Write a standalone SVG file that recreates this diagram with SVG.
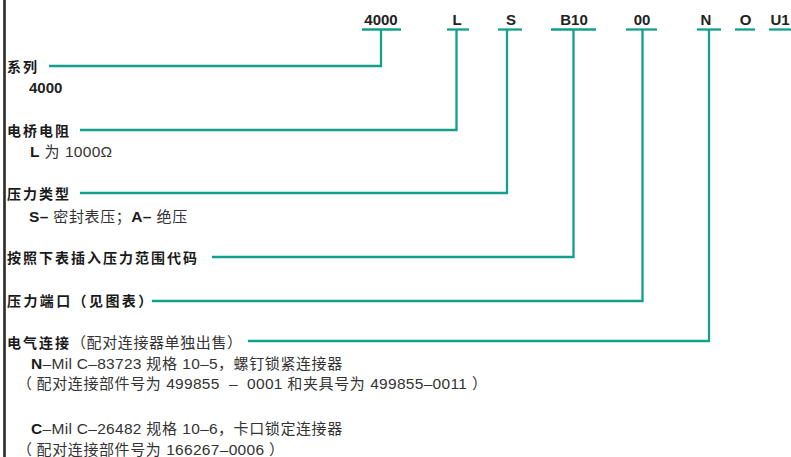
<svg xmlns="http://www.w3.org/2000/svg" width="791" height="457" viewBox="0 0 791 457">
<style>
.code{font-family:"Liberation Sans","Noto Sans CJK SC",sans-serif;font-weight:bold;font-size:15px;fill:#222;text-anchor:middle}
.t{font-family:"Liberation Sans","Noto Sans CJK SC",sans-serif;font-size:14px;fill:#333;letter-spacing:2px}
.n{font-family:"Liberation Sans","Noto Sans CJK SC",sans-serif;font-size:15px;fill:#333;letter-spacing:0.6px}
.b{font-weight:bold;fill:#1a1a1a}
.lat{font-family:"Liberation Sans",sans-serif;font-size:15.5px;fill:#333;letter-spacing:0.3px}
.lb{font-family:"Liberation Sans",sans-serif;font-size:15.5px;font-weight:bold;fill:#1a1a1a;letter-spacing:0.3px}
.ul{stroke:#12a08a;stroke-width:2.3;fill:none}
.con{stroke:#12a08a;stroke-width:2.3;fill:none;stroke-linejoin:miter}
</style>
<rect width="791" height="457" fill="#fff"/>
<line x1="4.5" y1="0" x2="4.5" y2="457" stroke="#2a2a2a" stroke-width="2.6"/>

<g id="code-4000"><text class="code" x="381" y="25">4000</text><line class="ul" x1="362" y1="29.5" x2="401" y2="29.5"/></g>
<g id="code-L"><text class="code" x="457" y="25">L</text><line class="ul" x1="447" y1="29.5" x2="469" y2="29.5"/></g>
<g id="code-S"><text class="code" x="511" y="25">S</text><line class="ul" x1="498" y1="29.5" x2="522" y2="29.5"/></g>
<g id="code-B10"><text class="code" x="574" y="25">B10</text><line class="ul" x1="551" y1="29.5" x2="596" y2="29.5"/></g>
<g id="code-00"><text class="code" x="642" y="25">00</text><line class="ul" x1="626" y1="29.5" x2="657" y2="29.5"/></g>
<g id="code-N"><text class="code" x="706" y="25">N</text><line class="ul" x1="697" y1="29.5" x2="721" y2="29.5"/></g>
<g id="code-O"><text class="code" x="745.5" y="25">O</text><line class="ul" x1="735" y1="29.5" x2="755" y2="29.5"/></g>
<g id="code-U1"><text class="code" x="780" y="25">U1</text><line class="ul" x1="769" y1="29.5" x2="791" y2="29.5"/></g>

<g id="desc-series">
<text class="t b" x="7" y="72">系列</text>
<text class="code" style="text-anchor:start" x="29" y="93">4000</text>
</g>
<g id="desc-bridge">
<text class="t b" x="7" y="135.5">电桥电阻</text>
<text class="n" x="30" y="157"><tspan class="lb">L</tspan> 为 <tspan class="lat">1000Ω</tspan></text>
</g>
<g id="desc-type">
<text class="t b" x="7" y="198.5">压力类型</text>
<text class="n" x="29" y="222"><tspan class="lb">S–</tspan> 密封表压；<tspan class="lb">A–</tspan> 绝压</text>
</g>
<g id="desc-range">
<text class="t b" x="7" y="262.5">按照下表插入压力范围代码</text>
</g>
<g id="desc-port">
<text class="t b" x="7" y="306" style="letter-spacing:2.4px">压力端口（见图表）</text>
</g>
<g id="desc-elec">
<text class="n" x="7" y="347.5"><tspan class="t b">电气连接</tspan>（配对连接器单独出售）</text>
<text class="n" x="31" y="369"><tspan class="lb">N</tspan><tspan class="lat">–Mil C–83723 </tspan>规格 <tspan class="lat">10–5</tspan>，螺钉锁紧连接器</text>
<text class="n" x="17" y="389">（<tspan dx="4">配对连接部件号为 </tspan><tspan class="lat">499855&#160;&#160;–&#160;&#160;0001 </tspan>和夹具号为 <tspan class="lat">499855–0011</tspan> ）</text>
<text class="n" x="31" y="434"><tspan class="lb">C</tspan><tspan class="lat">–Mil C–26482 </tspan>规格 <tspan class="lat">10–6</tspan>，卡口锁定连接器</text>
<text class="n" x="17" y="455">（<tspan dx="4">配对连接部件号为 </tspan><tspan class="lat">166267–0006</tspan> ）</text>
</g>

<g id="connectors">
<polyline class="con" points="49,66 381,66 381,29.5"/>
<polyline class="con" points="80,130 456.5,130 456.5,29.5"/>
<polyline class="con" points="80,193 507,193 507,29.5"/>
<polyline class="con" points="212,257 573.5,257 573.5,29.5"/>
<polyline class="con" points="152,301 642.5,301 642.5,29.5"/>
<polyline class="con" points="248,341 709,341 709,29.5"/>
</g>
</svg>
